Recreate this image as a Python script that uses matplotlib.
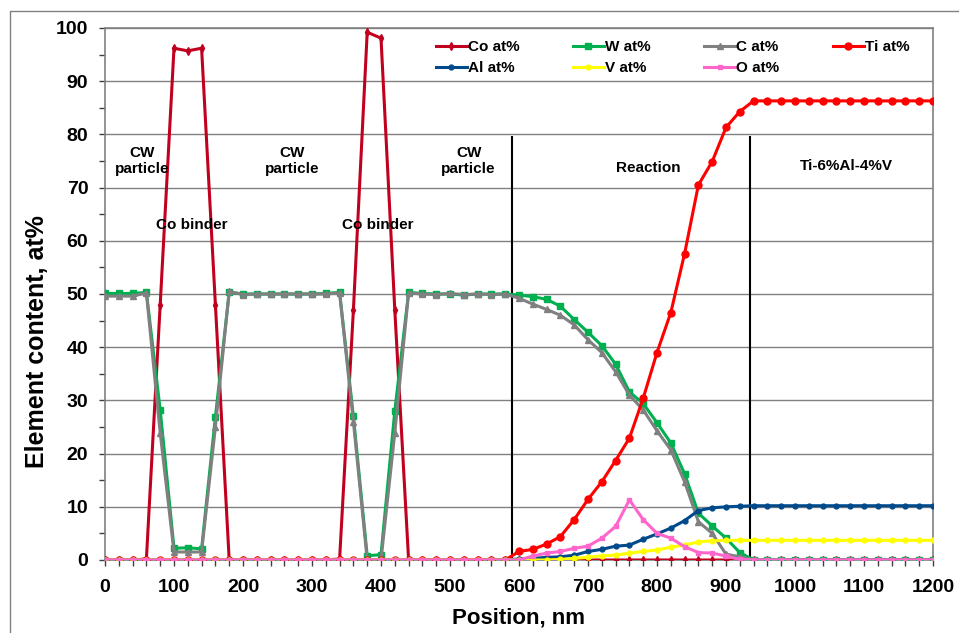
import numpy as np
import matplotlib
matplotlib.use("Agg")
import matplotlib.pyplot as plt
from matplotlib.lines import Line2D

plt.rcParams['font.family'] = ['Liberation Sans', 'DejaVu Sans']
plt.rcParams['font.weight'] = 'bold'

# Position, nm (sampling every 20 nm)
position = list(range(0, 1201, 20))

co = [0, 0, 0, 0.2, 48, 96.2, 95.7, 96.2, 48, 0,
      0, 0, 0, 0, 0, 0, 0, 0.2, 47, 99.2,
      98.1, 47, 0, 0, 0, 0, 0, 0, 0, 0,
      0, 0, 0, 0, 0, 0, 0, 0, 0, 0,
      0, 0, 0, 0, 0, 0, 0, 0, 0, 0,
      0, 0, 0, 0, 0, 0, 0, 0, 0, 0, 0]

w = [50.1, 50.1, 50.1, 50.3, 28.2, 2.2, 2.3, 2.1, 26.9, 50.3,
     50.0, 50.0, 50.0, 50.0, 50.0, 50.0, 50.1, 50.3, 27.0, 0.8,
     1.0, 28.0, 50.3, 50.1, 50.0, 50.0, 49.8, 50.0, 50.0, 50.0,
     49.8, 49.5, 49.0, 47.7, 45.2, 42.8, 40.3, 36.8, 31.6, 29.4,
     25.8, 22.0, 16.2, 8.8, 6.4, 4.1, 1.4, 0, 0, 0,
     0, 0, 0, 0, 0, 0, 0, 0, 0, 0, 0]

c = [49.6, 49.6, 49.6, 50.2, 23.9, 1.5, 1.5, 1.5, 25.0, 50.5,
     49.9, 50.0, 50.0, 50.0, 50.0, 50.0, 50.0, 50.2, 26.0, 0,
     0, 23.9, 50.2, 50.0, 49.9, 50.1, 49.9, 50.0, 49.9, 50.0,
     49.2, 48.1, 47.1, 46.0, 44.2, 41.4, 39.0, 35.4, 31.0, 28.2,
     24.3, 20.7, 14.7, 7.2, 5.0, 1.1, 0.6, 0, 0, 0,
     0, 0, 0, 0, 0, 0, 0, 0, 0, 0, 0]

ti = [0] * 29 + [0, 1.6, 2.0, 3.0, 4.4, 7.6, 11.4, 14.7, 18.7, 22.9, 30.4,
                 39.0, 46.5, 57.6, 70.5, 74.9, 81.3, 84.3, 86.3] + [86.3] * 13

al = [0] * 29 + [0, 0.2, 0.3, 0.5, 0.6, 0.9, 1.6, 2.0, 2.6, 2.8, 3.9,
                 4.9, 6.0, 7.4, 9.3, 9.8, 10.0, 10.1, 10.2] + [10.2] * 13

v = [0] * 29 + [0, 0, 0, 0, 0.1, 0.3, 0.5, 0.8, 0.9, 1.3, 1.6,
                1.9, 2.4, 2.8, 3.4, 3.6, 3.7, 3.7, 3.7] + [3.7] * 13

o = [0] * 29 + [0, 0, 0.75, 1.3, 1.6, 2.2, 2.6, 4.1, 6.3, 11.3, 7.6,
                5.0, 4.1, 2.5, 1.4, 1.3, 0.75, 0.1, 0] + [0] * 13

zone_lines = [590, 935]
zone_labels = ["CW\nparticle", "Co binder", "CW\nparticle", "Co binder",
               "CW\nparticle", "Reaction", "Ti-6%Al-4%V"]
zone_label_x = [54, 125, 271, 396, 527, 787, 1075]
zone_label_y = [75, 63, 75, 63, 75, 73.7, 74]

fig = plt.figure(figsize=(9.59, 6.33), dpi=100)
ax = fig.add_axes([105/959, 1-560/633, (933-105)/959, (560-28)/633])

x = np.array(position)
lw = 2.2
ax.plot(x, co, color='#C0001E', lw=lw, marker='d', ms=4, label='Co at%', zorder=3)
ax.plot(x, w, color='#00B050', lw=lw, marker='s', ms=5, label='W at%', zorder=4)
ax.plot(x, c, color='#808080', lw=lw, marker='^', ms=5, label='C at%', zorder=5)
ax.plot(x, ti, color='#FF0000', lw=lw, marker='o', ms=5, label='Ti at%', zorder=6)
ax.plot(x, al, color='#004A8C', lw=lw, marker='o', ms=3.5, label='Al at%', zorder=6)
ax.plot(x, v, color='#FFFF00', lw=lw, marker='o', ms=3.5, label='V at%', zorder=6)
ax.plot(x, o, color='#FF66CC', lw=lw, marker='s', ms=3.5, label='O at%', zorder=6)

for xl in zone_lines:
    ax.plot([xl, xl], [0, 79.5], color='black', lw=1.5, zorder=2)

for t, tx, ty in zip(zone_labels, zone_label_x, zone_label_y):
    ax.text(tx, ty, t, ha='center', va='center', fontsize=11,
            fontweight='bold', linespacing=1.1, zorder=7)

ax.set_xlim(0, 1200)
ax.set_ylim(0, 100)
ax.set_xticks(range(0, 1201, 100))
ax.set_xticks(range(0, 1201, 20), minor=True)
ax.set_yticks(range(0, 101, 10))
ax.set_yticks(range(5, 100, 10), minor=True)
ax.tick_params(axis='both', which='major', labelsize=14, colors='#404040',
               labelcolor='black', length=4, width=1, pad=8)
ax.tick_params(axis='both', which='minor', length=4, width=1, colors='#404040')
ax.tick_params(axis='x', which='major', pad=10)
for lab in ax.get_xticklabels() + ax.get_yticklabels():
    lab.set_fontweight('bold')

ax.grid(axis='y', which='major', color='#808080', lw=1)
ax.set_axisbelow(True)
for s in ['left', 'bottom', 'right', 'top']:
    ax.spines[s].set_color('#808080')
    ax.spines[s].set_linewidth(1.2)

ax.set_xlabel('Position, nm', fontsize=16, fontweight='bold', labelpad=8)
ax.set_ylabel('Element content, at%', fontsize=18, fontweight='bold')
ax.yaxis.set_label_coords(-0.068, 0.41)

handles, labels = ax.get_legend_handles_labels()
order = [0, 4, 1, 5, 2, 6, 3]
leg = ax.legend([handles[i] for i in order], [labels[i] for i in order],
                ncol=4, loc='upper left', bbox_to_anchor=(0.385, 1.0),
                frameon=False, handlelength=2.0, handletextpad=0.1,
                columnspacing=3.5, labelspacing=0.45, borderaxespad=0.4,
                prop={'weight': 'bold', 'size': 11})

# outer chart border
fig.add_artist(Line2D([10/959, 10/959, 1.0], [0.0, 1-11/633, 1-11/633],
                      transform=fig.transFigure, color='#808080', lw=1))

fig.savefig('out.png', dpi=100)
